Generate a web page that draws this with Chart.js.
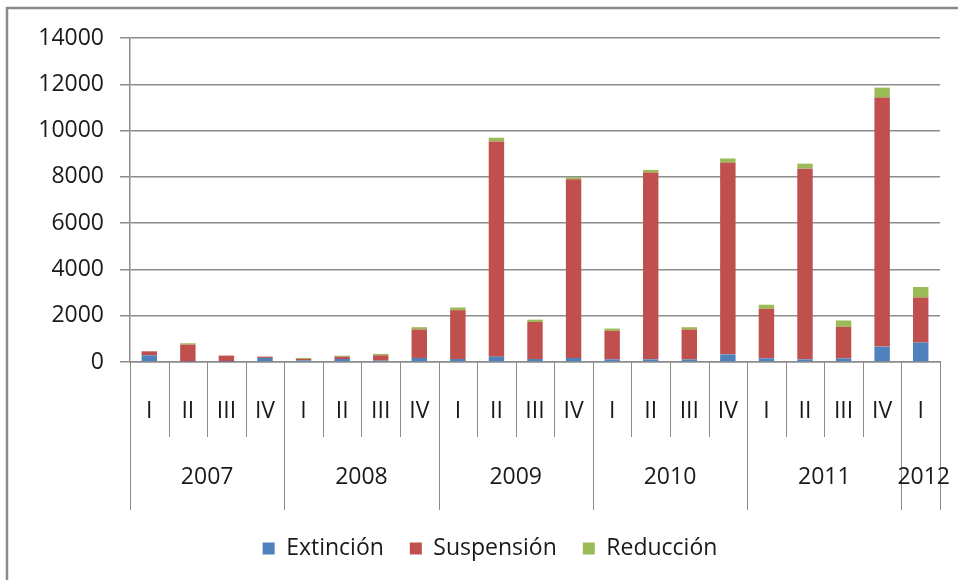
<!DOCTYPE html>
<html>
<head>
<meta charset="utf-8">
<script src="https://cdn.jsdelivr.net/npm/chart.js@4"></script>
<style>
  html, body { margin: 0; padding: 0; background: #fff; }
  #wrap { width: 958px; height: 580px; }
</style>
</head>
<body>
<div id="wrap"><canvas id="chart" width="958" height="580"></canvas></div>
<script>
// les donnees
const trimestres = ['I','II','III','IV','I','II','III','IV','I','II','III','IV','I','II','III','IV','I','II','III','IV','I'];
const annees = ['2007','2008','2009','2010','2011','2012'];
const trimestresParAnnee = [4, 4, 4, 4, 4, 1];

const extincion  = [290, 10, 5, 175, 70, 130, 60, 175, 130, 230, 130, 175, 115, 115, 115, 330, 160, 115, 160, 665, 840];
const suspension = [170, 740, 270, 55, 60, 100, 230, 1230, 2110, 9300, 1600, 7725, 1230, 8070, 1290, 8290, 2140, 8240, 1360, 10760, 1950];
const reduccion  = [10, 60, 5, 5, 45, 45, 60, 100, 115, 160, 100, 80, 100, 115, 100, 175, 175, 215, 275, 430, 450];

const yTicks = [0, 2000, 4000, 6000, 8000, 10000, 12000, 14000];

const police = "'Open Sans', 'DejaVu Sans', sans-serif";
const gris = '#8c8c8c';

// cadre gauche + haut
const cadre = {
    id: 'cadre',
    beforeDraw(chart) {
        const c = chart.ctx;
        c.save();
        c.fillStyle = '#fff';
        c.fillRect(0, 0, chart.width, chart.height);
        c.strokeStyle = '#8a8a8a';
        c.lineWidth = 2.5;
        c.beginPath();
        c.moveTo(7, chart.height);
        c.lineTo(7, 8);
        c.lineTo(chart.width, 8);
        c.stroke();
        c.restore();
    }
};

// axe des categories a deux niveaux (trimestre / annee)
const axeMulti = {
    id: 'axeMulti',
    afterDraw(chart) {
        const x = chart.scales.x;
        const c = chart.ctx;
        const base = chart.chartArea.bottom;
        const step = x.getPixelForValue(1) - x.getPixelForValue(0);
        const bord = i => x.getPixelForValue(i) - step / 2;
        c.save();
        c.strokeStyle = gris;
        c.lineWidth = 1;
        c.fillStyle = '#1a1a1a';
        c.font = '23px ' + police;
        c.textAlign = 'center';
        c.textBaseline = 'middle';
        // trimestres
        for (let i = 0; i <= trimestres.length; i++) {
            const px = Math.round(bord(i)) + 0.5;
            c.beginPath();
            c.moveTo(px, base);
            c.lineTo(px, base + 75);
            c.stroke();
        }
        trimestres.forEach((t, i) => c.fillText(t, x.getPixelForValue(i), base + 49));
        // annees
        let debut = 0;
        annees.forEach((a, k) => {
            const fin = debut + trimestresParAnnee[k];
            [debut, fin].forEach(j => {
                const px = Math.round(bord(j)) + 0.5;
                c.beginPath();
                c.moveTo(px, base + 75);
                c.lineTo(px, base + 148);
                c.stroke();
            });
            const cx = (bord(debut) + bord(fin)) / 2;
            c.fillText(a, k === annees.length - 1 ? cx + 3 : cx, base + 115);
            debut = fin;
        });
        c.restore();
    }
};

const ctx = document.getElementById('chart');
const chart = new Chart(ctx, {
    type: 'bar',
    data: {
        labels: trimestres.map((t, i) => i),
        datasets: [
            { label: 'Extinción', data: extincion, backgroundColor: '#4f81bd' },
            { label: 'Suspensión', data: suspension, backgroundColor: '#c0504d' },
            { label: 'Reducción', data: reduccion, backgroundColor: '#9bbb59' }
        ]
    },
    options: {
        responsive: false,
        animation: false,
        devicePixelRatio: 1,
        layout: { padding: { left: 40, right: 18, top: 38, bottom: 10 } },
        datasets: { bar: { categoryPercentage: 1, barPercentage: 0.4 } },
        plugins: {
            tooltip: { enabled: false },
            legend: {
                position: 'bottom',
                labels: {
                    font: { family: police, size: 23 },
                    color: '#1a1a1a',
                    boxWidth: 12,
                    boxHeight: 12,
                    padding: 26,
                    useBorderRadius: false
                }
            }
        },
        scales: {
            x: {
                stacked: true,
                ticks: { display: false },
                grid: { display: false },
                border: { color: gris, width: 1.5 },
                afterFit(scale) { scale.height = 149; }
            },
            y: {
                stacked: true,
                min: 0,
                max: 14000,
                afterFit(scale) { scale.width = 90; },
                afterBuildTicks(scale) { scale.ticks = yTicks.map(v => ({ value: v })); },
                ticks: {
                    font: { family: police, size: 23 },
                    color: '#1a1a1a',
                    padding: 16,
                    callback: v => String(v)
                },
                grid: { color: gris, lineWidth: 1.5, tickLength: 10 },
                border: { color: gris, width: 1.5 }
            }
        }
    },
    plugins: [cadre, axeMulti]
});
</script>
</body>
</html>
